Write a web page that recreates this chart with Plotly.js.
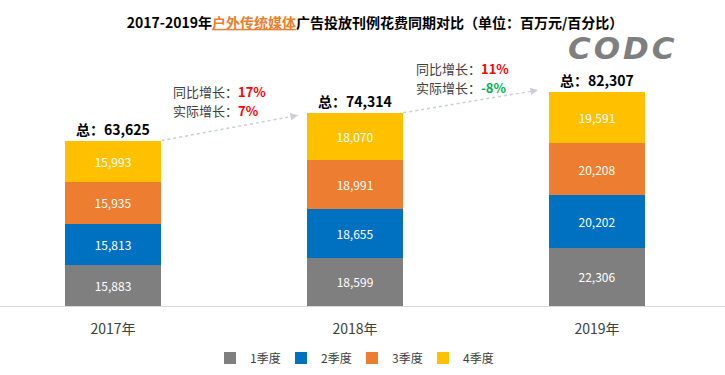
<!DOCTYPE html>
<html><head><meta charset="utf-8">
<script src="https://cdn.plot.ly/plotly-3.0.1.min.js"></script>
<style>body{margin:0;background:#fff}#c{width:725px;height:375px}</style>
</head><body><div id="c"></div>
<script>
const years = ['2017年','2018年','2019年'];
const seriesNames = ['1季度','2季度','3季度','4季度'];
const q1 = [15883, 18599, 22306];
const q2 = [15813, 18655, 20202];
const q3 = [15935, 18991, 20208];
const q4 = [15993, 18070, 19591];
const totals = [63625, 74314, 82307];
const yoyGrowth = ['17%', '11%'];
const realGrowth = ['7%', '-8%'];
const colors = ['#7F7F7F', '#0070C0', '#ED7D31', '#FFC000'];

const seriesVals = [q1, q2, q3, q4];
const FONT = '"Noto Sans CJK SC", "Noto Sans", sans-serif';
const fmt = v => v.toLocaleString('en-US');

const data = seriesVals.map((vals, i) => ({
  type: 'bar', x: [0,1,2], y: vals, name: seriesNames[i],
  marker: {color: colors[i]}, width: 0.4,
  text: vals.map(fmt), textposition: 'inside', insidetextanchor: 'middle',
  textfont: {color: '#fff', size: 12, family: FONT},
  hoverinfo: 'skip'
}));

// dotted connector lines between bar tops
const conn = [
  {x0: 0.2, y0: totals[0], x1: 0.764, y1: totals[1] - 1000},
  {x0: 1.2, y0: totals[1], x1: 1.756, y1: totals[2] + 700}
];
conn.forEach(c => data.push({
  type: 'scatter', mode: 'lines', x: [c.x0, c.x1], y: [c.y0, c.y1],
  line: {color: '#C9CFD8', width: 1.5, dash: 'dot'}, showlegend: false, hoverinfo: 'skip'
}));

const annotations = [];
totals.forEach((t, i) => annotations.push({
  x: i, y: t, xref: 'x', yref: 'y', yanchor: 'bottom',
  text: '<b>总：' + fmt(t) + '</b>', showarrow: false,
  font: {size: 14, color: '#000', family: FONT}
}));
conn.forEach(c => annotations.push({
  x: c.x1, y: c.y1, xref: 'x', yref: 'y',
  ax: c.x1 - (c.x1 - c.x0) * 0.06, ay: c.y1 - (c.y1 - c.y0) * 0.06, axref: 'x', ayref: 'y',
  showarrow: true, arrowhead: 2, arrowsize: 1, arrowwidth: 1.5, arrowcolor: '#C9CFD8', text: ''
}));
const growthPos = [{x: 0.24, y: 79000}, {x: 1.244, y: 87700}];
growthPos.forEach((p, i) => {
  const rc = realGrowth[i].startsWith('-') ? '#00B050' : '#FF0000';
  const lines = [
    '同比增长：<span style="color:#FF0000"><b>' + yoyGrowth[i] + '</b></span>',
    '实际增长：<span style="color:' + rc + '"><b>' + realGrowth[i] + '</b></span>'
  ];
  lines.forEach((t, k) => annotations.push({
    x: p.x, y: p.y, xref: 'x', yref: 'y', xanchor: 'left', yanchor: 'middle', align: 'left',
    yshift: k === 0 ? 9.5 : -9.5, showarrow: false, text: t,
    font: {size: 13, color: '#404040', family: FONT}
  }));
});
annotations.push({
  x: 623/725, y: 1 - (48 - 60) / 246, xref: 'paper', yref: 'paper', xanchor: 'center', yanchor: 'middle',
  showarrow: false, text: '<span style="letter-spacing:3px">CODC</span>',
  font: {size: 31, color: '#7F7F7F', family: '"DejaVu Sans", sans-serif', weight: 'bold', style: 'italic'}
});

const layout = {
  width: 725, height: 375,
  margin: {l: 0, r: 0, t: 60, b: 69},
  paper_bgcolor: '#fff', plot_bgcolor: '#fff',
  barmode: 'stack', bargap: 0,
  font: {family: FONT, color: '#404040'},
  title: {
    text: '<b>2017-2019年<span style="color:#ED7D31"><u>户外传统媒体</u></span>广告投放刊例花费同期对比（单位：百万元/百分比）</b>',
    font: {size: 14, color: '#000', family: FONT},
    x: 375/725, xanchor: 'center', y: 1 - 23/375, yanchor: 'middle', yref: 'container', xref: 'paper'
  },
  xaxis: {
    range: [-0.467, 2.529], tickvals: [0,1,2], ticktext: years,
    showline: true, linecolor: '#D9D9D9', linewidth: 1, showgrid: false, zeroline: false,
    ticks: '', ticklabelstandoff: 10, tickfont: {size: 14, color: '#404040', family: FONT},
    fixedrange: true
  },
  yaxis: {range: [0, 94600], visible: false, fixedrange: true},
  showlegend: true,
  legend: {
    orientation: 'h', x: 352/725, xanchor: 'center', y: -(358 - 306) / 246, yanchor: 'middle',
    font: {size: 12, color: '#404040', family: FONT}, traceorder: 'normal',
    entrywidth: 26, entrywidthmode: 'pixels'
  },
  annotations: annotations
};
Plotly.newPlot('c', data, layout, {displayModeBar: false, staticPlot: true});
</script></body></html>
